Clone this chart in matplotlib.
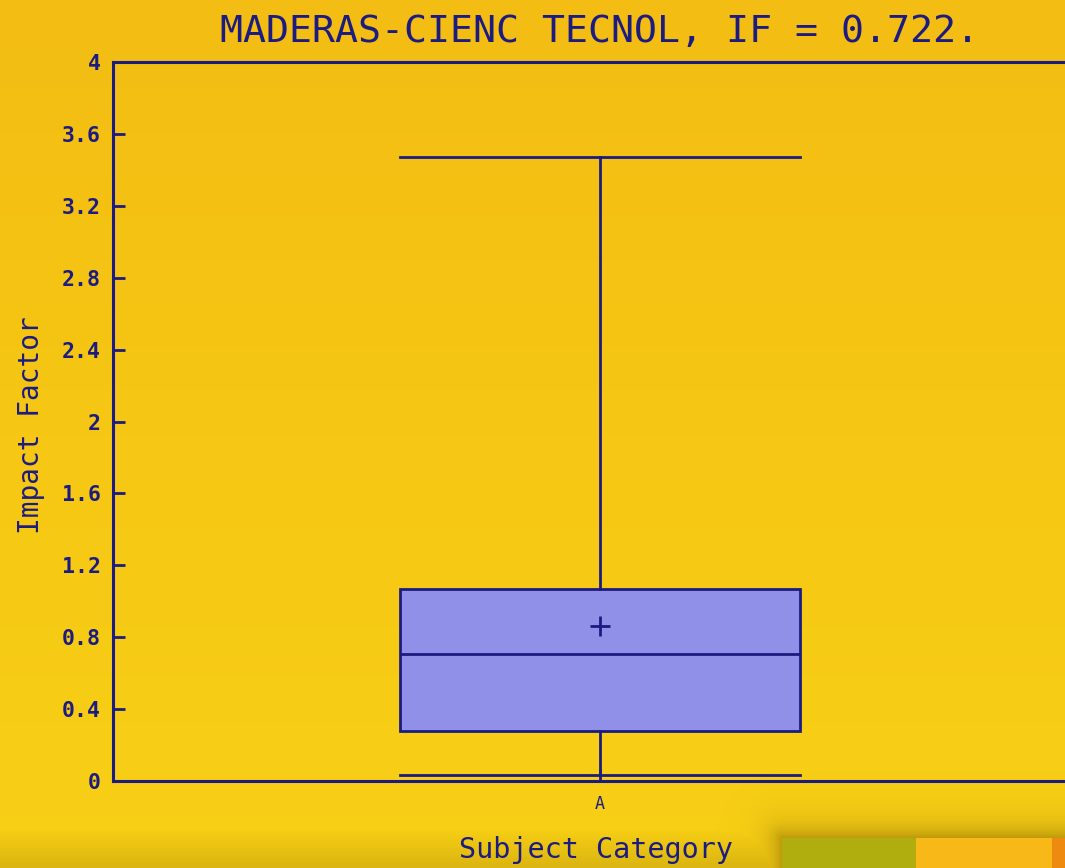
import numpy as np
import matplotlib
matplotlib.use("Agg")
import matplotlib.pyplot as plt
from matplotlib.patches import Rectangle
from matplotlib.colors import LinearSegmentedColormap

# Data
categories = ["A"]
whisker_low = [0.033]
q1 = [0.278]
median = [0.707]
q3 = [1.068]
whisker_high = [3.47]
mean = [0.862]
yticks = [0, 0.4, 0.8, 1.2, 1.6, 2, 2.4, 2.8, 3.2, 3.6, 4]
ytick_labels = ["0", "0.4", "0.8", "1.2", "1.6", "2", "2.4", "2.8", "3.2", "3.6", "4"]
title = "MADERAS-CIENC TECNOL, IF = 0.722."

NAVY = "#1c1c80"
BOXFACE = "#9090e8"
MONO = ["DejaVu Sans Mono"]

W, H = 1065, 868
fig = plt.figure(figsize=(W / 100, H / 100), dpi=100)

# background gradient
bg = fig.add_axes([0, 0, 1, 1], zorder=-10)
grad = np.linspace(0, 1, 256).reshape(-1, 1)
cmap = LinearSegmentedColormap.from_list("bg", ["#f3bd13", "#f6c714", "#f8d016"])
bg.imshow(grad, aspect="auto", cmap=cmap, extent=[0, W, H, 0])

# soft shadow overlay (decorative)
yy, xx = np.mgrid[0:H, 0:W]
px0, py0 = 782, 838
dx = np.clip(px0 - xx, 0, None)
dy = np.clip(py0 - yy, 0, None)
d = np.sqrt(dx ** 2 + dy ** 2)
alpha = 0.45 * np.exp(-d / 14.0)
alpha = np.maximum(alpha, 0.22 * np.clip((yy - 828) / 40.0, 0, 1))
shadow = np.zeros((H, W, 4))
shadow[..., 0] = 0.45
shadow[..., 1] = 0.33
shadow[..., 2] = 0.0
shadow[..., 3] = alpha
bg.imshow(shadow, aspect="auto", extent=[0, W, H, 0], interpolation="bilinear")
bg.add_patch(Rectangle((782, 838), 134, 40, color="#b0ae0e", lw=0))
bg.add_patch(Rectangle((916, 838), 136, 40, color="#f8b818", lw=0))
bg.add_patch(Rectangle((1052, 838), 40, 40, color="#ef8a10", lw=0))
bg.set_xlim(0, W); bg.set_ylim(H, 0)
bg.axis("off")

ax = fig.add_axes([113 / W, 87 / H, 974 / W, 719 / H])
ax.set_facecolor("none")

stats = []
for i, c in enumerate(categories):
    stats.append(dict(label=c, whislo=whisker_low[i], q1=q1[i], med=median[i],
                      q3=q3[i], whishi=whisker_high[i], mean=mean[i], fliers=[]))

lw = 2.0
ax.bxp(stats, positions=[1], widths=0.41, patch_artist=True, showmeans=True,
       boxprops=dict(facecolor=BOXFACE, edgecolor=NAVY, linewidth=lw),
       medianprops=dict(color=NAVY, linewidth=lw),
       whiskerprops=dict(color=NAVY, linewidth=lw),
       capprops=dict(color=NAVY, linewidth=lw),
       capwidths=0.41,
       meanprops=dict(marker="+", markeredgecolor=NAVY, markersize=15, markeredgewidth=2.0))

ax.set_xlim(0.5, 1.5)
ax.set_ylim(0, 4)
ax.set_yticks(yticks)
ax.set_yticklabels(ytick_labels, family=MONO, fontweight="bold", fontsize=15.5, color=NAVY)
ax.set_xticks([1])
ax.set_xticklabels(categories, family=MONO, fontsize=12, color=NAVY)
ax.tick_params(axis="both", direction="in", length=8.5, width=2.0, color=NAVY, pad=9)
ax.tick_params(axis="x", pad=10)
for s in ax.spines.values():
    s.set_color(NAVY)
    s.set_linewidth(2.2)

ax.set_title(title, family=MONO, fontsize=27.5, color=NAVY, pad=14.5)
ax.set_ylabel("Impact Factor", family=MONO, fontsize=20, color=NAVY)
ax.yaxis.set_label_coords(-0.07, 0.495)
ax.set_xlabel("Subject Category", family=MONO, fontsize=20.5, color=NAVY, va="top")
ax.xaxis.set_label_coords(0.496, -0.076)

fig.savefig("out.png", dpi=100)
